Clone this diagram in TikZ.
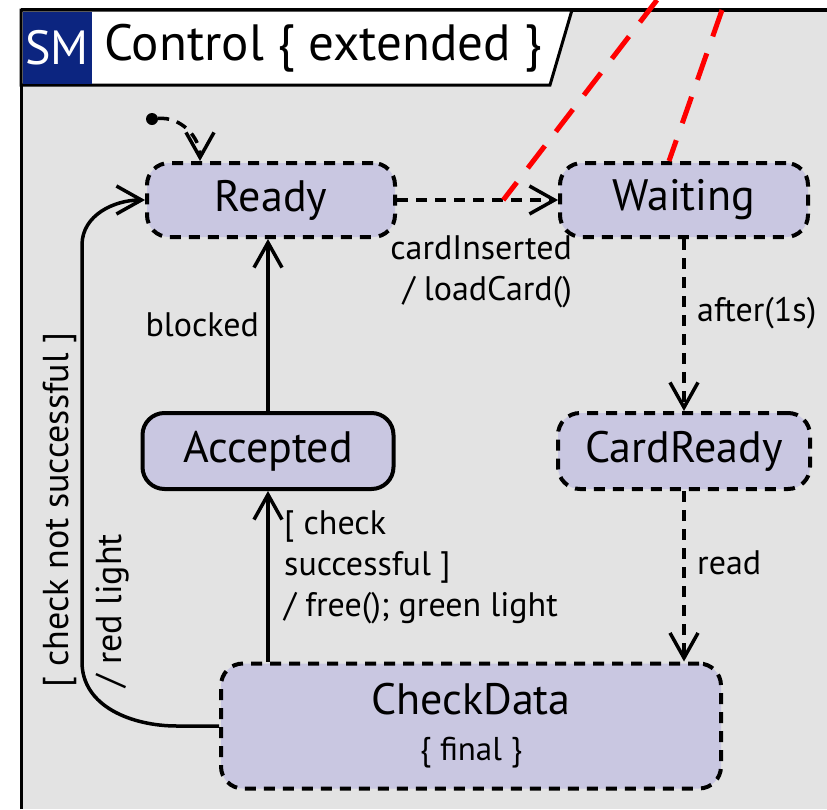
\documentclass[tikz,border=0pt]{standalone}
\usepackage{fontspec}
\setmainfont{PT Sans}
\usetikzlibrary{arrows.meta,calc}
\definecolor{smblue}{HTML}{0C2580}
\definecolor{statefill}{HTML}{C9C7E1}
\definecolor{bggray}{HTML}{E3E3E3}
\tikzset{
  state/.style={draw, line width=4pt, fill=statefill, rounded corners=22pt,
    minimum height=74pt, inner sep=0pt, font=\fontsize{44}{50}\selectfont},
  dstate/.style={state, dash pattern=on 11pt off 8pt},
  trans/.style={line width=3.5pt, -{Straight Barb[length=25pt,width=28pt]}},
  dtrans/.style={trans, dash pattern=on 11pt off 8pt},
  lbl/.style={font=\fontsize{34}{41}\selectfont, inner sep=0pt},
  redline/.style={red, line width=5pt, dash pattern=on 28pt off 18pt}
}
\begin{document}
\begin{tikzpicture}[x=1pt,y=-1pt]
\useasboundingbox (0,0) rectangle (827,809);
\fill[bggray] (21,10) rectangle (827,809);
\draw[line width=3pt] (21,809) -- (21,10);
\draw[line width=4pt] (21,10) -- (827,10);
\draw[line width=3pt, fill=white] (21,10) -- (572,10) -- (550,85) -- (21,85) -- cycle;
\fill[smblue] (22.5,12) rectangle (92,83.5);
\node[text=white, font=\fontsize{48}{52}\selectfont] (smtag) at (57,48) {SM};
\node[anchor=west, font=\fontsize{51}{58}\selectfont] (title) at (101,48) {Control \{ extended \}};

\node[dstate, minimum width=248pt] (ready) at (271,200) {Ready};
\node[dstate, minimum width=248pt] (waiting) at (684,200) {Waiting};
\node[state, minimum width=251pt, minimum height=76pt] (accepted) at (268,451) {Accepted};
\node[dstate, minimum width=252pt, minimum height=76pt] (cardready) at (684,451) {CardReady};
\node[dstate, minimum width=500pt, minimum height=125pt, align=center]
  (checkdata) at (471,726) {CheckData\\[-4pt]{\fontsize{33}{38}\selectfont\{ final \}}};

\node[circle, fill, inner sep=0pt, minimum size=12pt] (init) at (152,119) {};
\draw[dtrans] (init) to[out=5,in=90] ([xshift=-71pt]ready.north);

\draw[dtrans] (ready) -- (waiting);
\draw[dtrans] (waiting) -- (cardready);
\draw[dtrans] (cardready.south) -- (cardready.south |- checkdata.north);
\draw[trans] (accepted.south |- checkdata.north) -- (accepted.south);
\draw[trans] (accepted.north) -- (accepted.north |- ready.south);

\coordinate (loopbot) at (82,662);
\coordinate (looptop) at (82,245);
\draw[trans] (checkdata.west) -- ++(-42,0) to[out=180,in=-90] (loopbot) -- (looptop)
  to[out=90,in=180] (ready.west);

\node[lbl, anchor=east] (blocked) at (259,325) {blocked};
\node[lbl, anchor=east, align=right] (inserted) at (572,272) {cardInserted\\/ loadCard()};
\node[lbl, anchor=west] (after) at (697,313) {after(1s)};
\node[lbl, anchor=west] (read) at (697,563) {read};
\node[lbl, anchor=west, align=left] (success) at (284,567)
  {[ check\\successful ]\\/ free(); green light};
\node[lbl, rotate=90, align=left, font=\fontsize{36}{41}\selectfont] (fail) at (86,510)
  {[ check not successful ]\\[12pt]/ red light};

\coordinate (redtopa) at (657,0);
\coordinate (redtopb) at (722,10);
\draw[redline] (redtopa) -- ($(ready.east)!0.66!(waiting.west)$);
\draw[redline] (redtopb) -- ([xshift=-15pt]waiting.north);
\end{tikzpicture}
\end{document}
